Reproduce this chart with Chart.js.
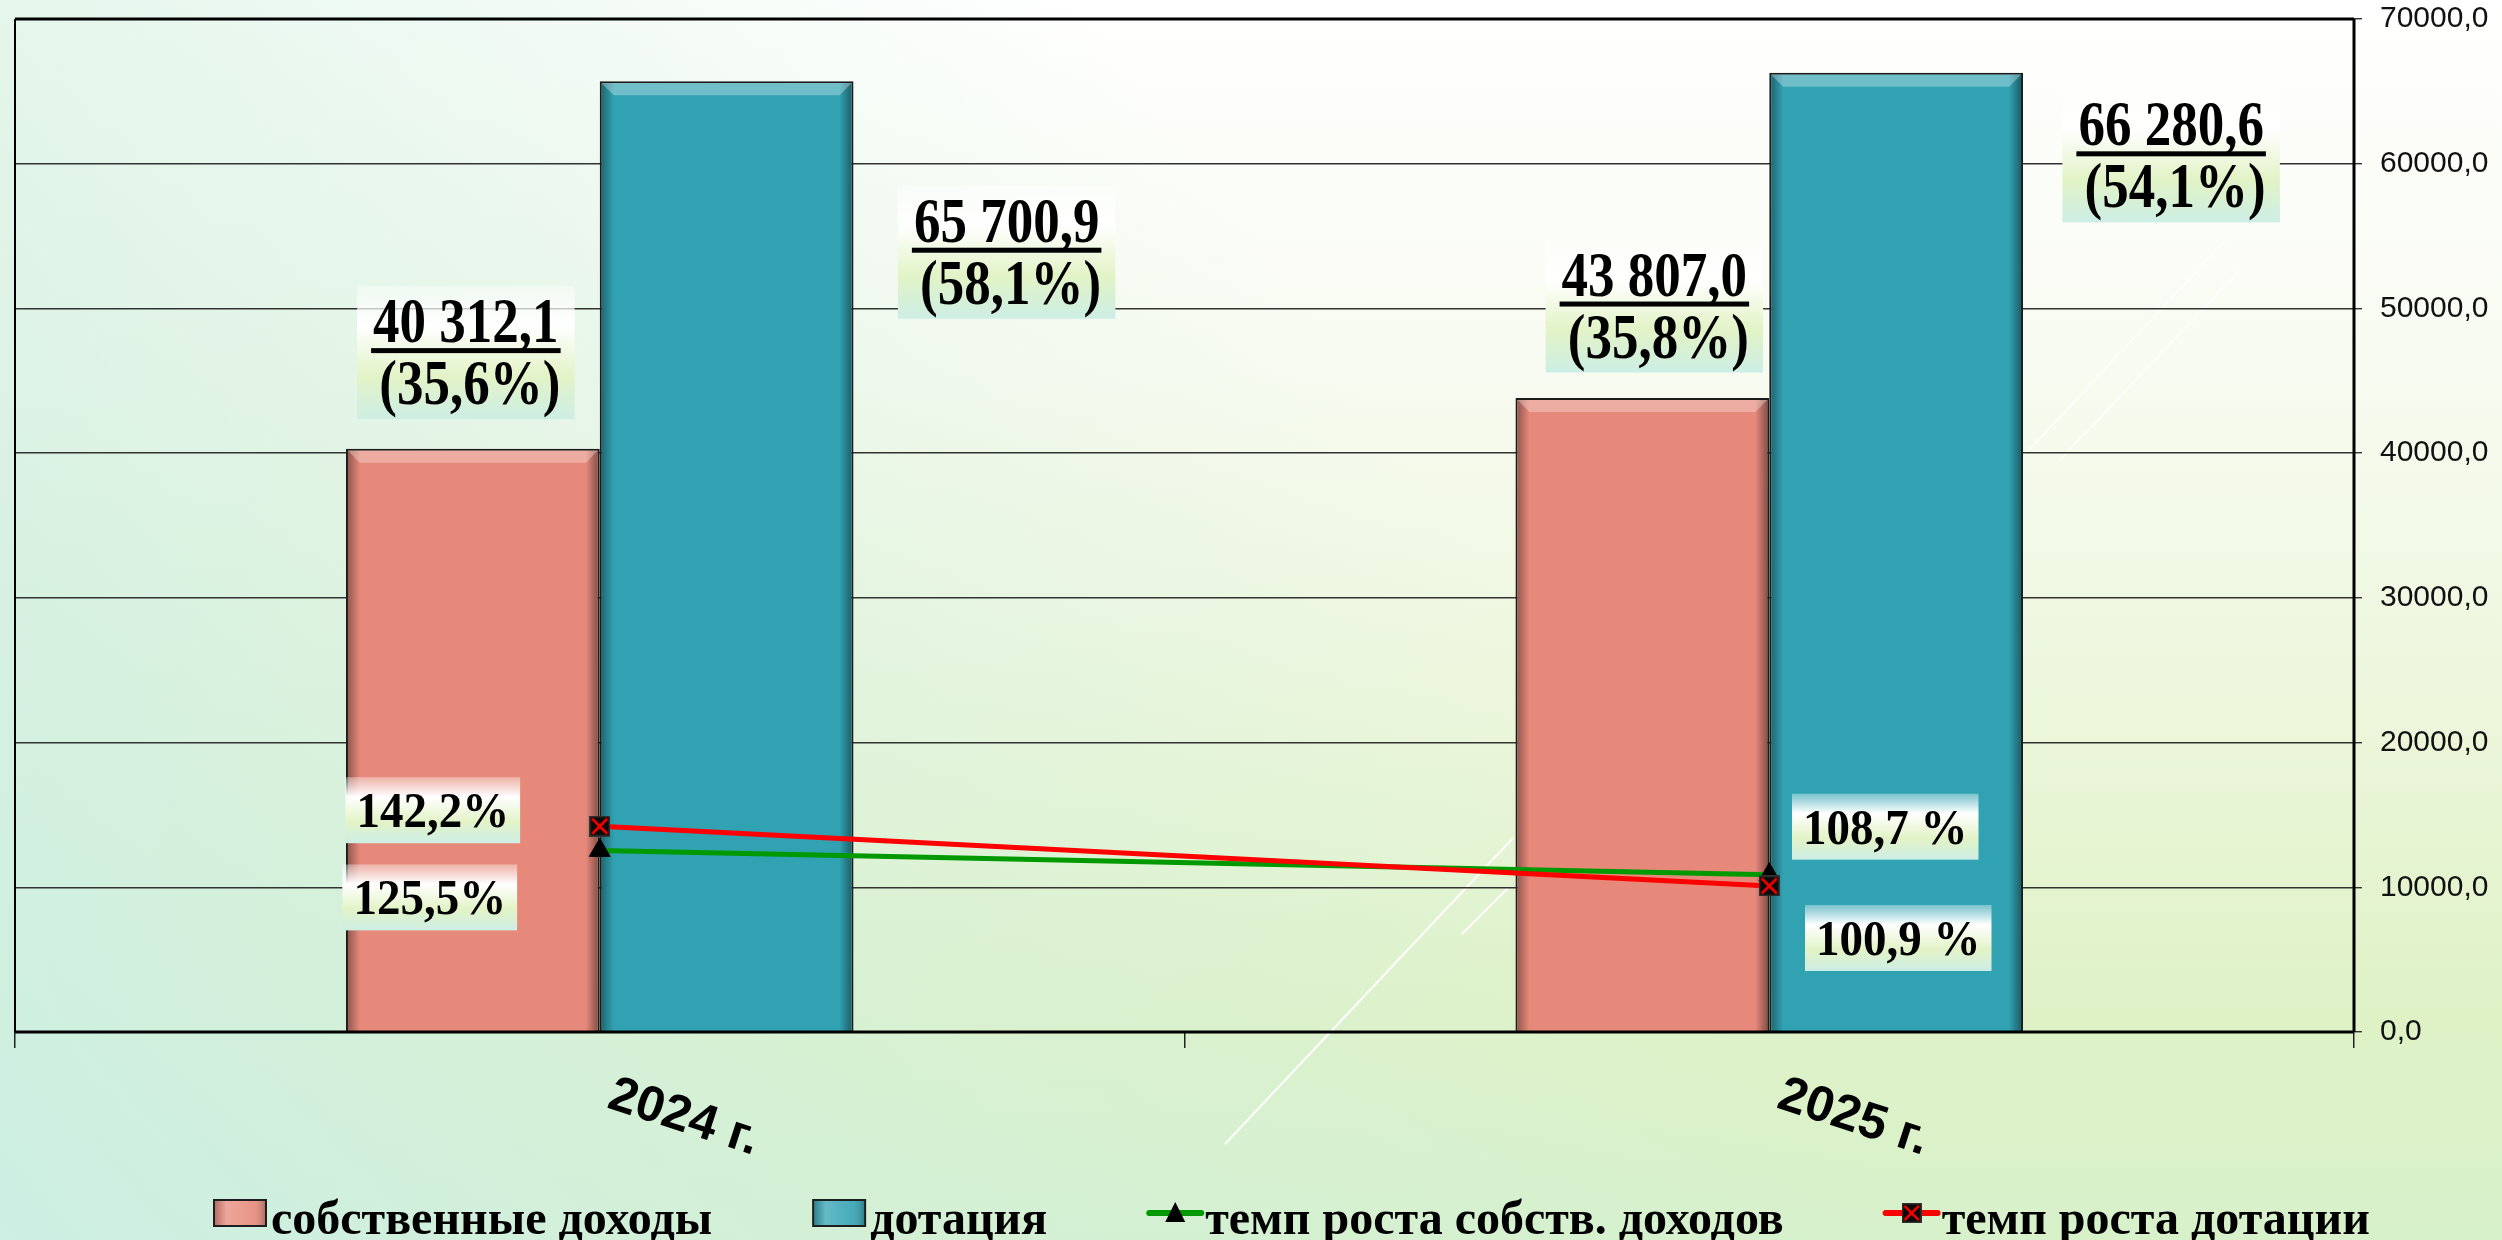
<!DOCTYPE html>
<html>
<head>
<meta charset="utf-8">
<script src="https://cdn.jsdelivr.net/npm/chart.js@4.4.1/dist/chart.umd.min.js"></script>
<style>
  html, body { margin: 0; padding: 0; overflow: hidden; background: #fff; }
</style>
</head>
<body>
<canvas id="chart" width="2502" height="1240"></canvas>
<script>
// values
const years = ['2024 г.', '2025 г.'];
const ownIncome = [40312.1, 43807.0];     // собственные доходы
const subsidy = [65700.9, 66280.6];       // дотация
const ownShare = [35.6, 35.8];            // доля, %
const subsidyShare = [58.1, 54.1];
const ownGrowth = [125.5, 108.7];         // темп роста собств. доходов, %
const subsidyGrowth = [142.2, 100.9];     // темп роста дотации, %
const yTicks = [0, 10000, 20000, 30000, 40000, 50000, 60000, 70000];

// where the value boxes sit, relative to the bar top / line point
const barLabelOffset = [
    [{ dx: -7, dy: -96 }, { dx: 12, dy: -92 }],    // собственные доходы
    [{ dx: 280, dy: 171 }, { dx: 275, dy: 83 }]    // дотация
];
const pctLabelOffset = {
    2: [{ dx: -170, dy: 47 }, { dx: 116, dy: -48 }],   // green
    3: [{ dx: -167, dy: -16 }, { dx: 129, dy: 52 }]    // red
};
const pctSep = ['', ' '];

const ORANGE = '#e6897a';
const TEAL = '#31a2b2';
const GREEN = '#009a00';
const RED = '#ff0000';

function fmtNum(v) {
    const parts = v.toFixed(1).split('.');
    return parts[0].replace(/\B(?=(\d{3})+(?!\d))/g, ' ') + ',' + parts[1];
}
function fmtPct(v) {
    return v.toFixed(1).replace('.', ',') + '%';
}

// red marker: black square with a red cross
function makeRedMarker(size) {
    const c = document.createElement('canvas');
    c.width = size; c.height = size;
    const x = c.getContext('2d');
    x.fillStyle = '#333';
    x.fillRect(0, 0, size, size);
    x.fillStyle = '#0a0a0a';
    x.fillRect(1.5, 1.5, size - 3, size - 3);
    x.strokeStyle = RED;
    x.lineWidth = 2.5;
    x.beginPath();
    x.moveTo(3, 3); x.lineTo(size - 3, size - 3);
    x.moveTo(size - 3, 3); x.lineTo(3, size - 3);
    x.stroke();
    return c;
}
const redMarker = makeRedMarker(21);

function labelGradient(ctx, top, h) {
    const g = ctx.createLinearGradient(0, top, 0, top + h);
    g.addColorStop(0, 'rgba(255,255,255,0.35)');
    g.addColorStop(0.3, 'rgba(255,255,255,1)');
    g.addColorStop(0.68, '#e2f3c6');
    g.addColorStop(1, '#cdeee5');
    return g;
}

function stretchedText(ctx, text, x, y, sy) {
    ctx.save();
    ctx.translate(x, y);
    ctx.scale(1, sy);
    ctx.fillText(text, 0, 0);
    ctx.restore();
}

const decorPlugin = {
    id: 'decor',
    beforeDraw(chart) {
        const ctx = chart.ctx;
        const W = chart.width, H = chart.height;
        ctx.save();
        const g = ctx.createLinearGradient(0, 0, 0, H);
        g.addColorStop(0, '#ffffff');
        g.addColorStop(0.3, '#f8fbf1');
        g.addColorStop(0.6, '#ebf6d9');
        g.addColorStop(0.82, '#dff2c6');
        g.addColorStop(1, '#d7f1cb');
        ctx.fillStyle = g;
        ctx.fillRect(0, 0, W, H);
        const g2 = ctx.createLinearGradient(0, H, 1300, 300);
        g2.addColorStop(0, 'rgba(205,239,228,1)');
        g2.addColorStop(0.45, 'rgba(208,239,222,0.55)');
        g2.addColorStop(1, 'rgba(208,239,222,0)');
        ctx.fillStyle = g2;
        ctx.fillRect(0, 0, W, H);
        // white streaks of the background
        ctx.strokeStyle = 'rgba(255,255,255,0.95)';
        ctx.lineWidth = 2;
        ctx.beginPath();
        ctx.moveTo(1225, 1144); ctx.lineTo(1513, 838);
        ctx.moveTo(1462, 934); ctx.lineTo(1508, 888);
        ctx.stroke();
        ctx.strokeStyle = 'rgba(255,255,255,0.6)';
        ctx.beginPath();
        ctx.moveTo(2027, 452); ctx.lineTo(2226, 240);
        ctx.moveTo(2060, 460); ctx.lineTo(2240, 270);
        ctx.stroke();
        ctx.restore();
    },
    afterDatasetDraw(chart, args) {
        const meta = args.meta;
        if (meta.type !== 'bar') return;
        const ctx = chart.ctx;
        const b = 2, sw = 12;
        ctx.save();
        meta.data.forEach((el) => {
            const p = el.getProps(['x', 'y', 'base', 'width'], true);
            const l = p.x - p.width / 2 + b, r = p.x + p.width / 2 - b;
            const t = p.y + b, bt = p.base;
            let g = ctx.createLinearGradient(l, 0, l + sw, 0);
            g.addColorStop(0, 'rgba(0,0,0,0.35)');
            g.addColorStop(1, 'rgba(0,0,0,0)');
            ctx.fillStyle = g;
            ctx.fillRect(l, t, sw, bt - t);
            g = ctx.createLinearGradient(r, 0, r - sw, 0);
            g.addColorStop(0, 'rgba(0,0,0,0.4)');
            g.addColorStop(1, 'rgba(0,0,0,0)');
            ctx.fillStyle = g;
            ctx.fillRect(r - sw, t, sw, bt - t);
            ctx.fillStyle = 'rgba(255,255,255,0.3)';
            ctx.beginPath();
            ctx.moveTo(l, t); ctx.lineTo(r, t);
            ctx.lineTo(r - sw, t + sw); ctx.lineTo(l + sw, t + sw);
            ctx.closePath();
            ctx.fill();
        });
        ctx.restore();
    },
    afterDatasetsDraw(chart) {
        const ctx = chart.ctx;
        const a = chart.chartArea;
        ctx.save();
        // plot frame
        ctx.strokeStyle = '#000';
        ctx.lineWidth = 2;
        ctx.beginPath();
        ctx.moveTo(a.left, a.top); ctx.lineTo(a.left, a.bottom);
        ctx.stroke();
        ctx.lineWidth = 3;
        ctx.beginPath();
        ctx.moveTo(a.left, a.top); ctx.lineTo(a.right, a.top);
        ctx.moveTo(a.right, a.top); ctx.lineTo(a.right, a.bottom);
        ctx.moveTo(a.left, a.bottom); ctx.lineTo(a.right, a.bottom);
        ctx.stroke();

        ctx.fillStyle = '#000';
        ctx.textAlign = 'center';
        ctx.textBaseline = 'alphabetic';

        // value + share boxes over the bars
        const shares = [ownShare, subsidyShare];
        [0, 1].forEach((di) => {
            const meta = chart.getDatasetMeta(di);
            meta.data.forEach((el, i) => {
                const off = barLabelOffset[di][i];
                const cx = el.x + off.dx, cy = el.y + off.dy;
                const top1 = fmtNum(chart.data.datasets[di].data[i]);
                const top2 = '(' + fmtPct(shares[di][i]) + ')';
                ctx.font = 'bold 53px "Liberation Serif"';
                const w1 = ctx.measureText(top1).width;
                const w2 = ctx.measureText(top2).width;
                const bw = Math.max(w1, w2) + 32, bh = 133;
                const bx = cx - bw / 2, by = cy - bh / 2;
                ctx.fillStyle = labelGradient(ctx, by, bh);
                ctx.fillRect(bx, by, bw, bh);
                ctx.fillStyle = '#000';
                stretchedText(ctx, top1, cx, by + 56, 1.2);
                ctx.fillRect(cx - w1 / 2 - 2, by + 62, w1 + 4, 5);
                stretchedText(ctx, top2, cx + 4, by + 118, 1.2);
            });
        });

        // growth rate boxes by the line points
        [2, 3].forEach((di) => {
            const meta = chart.getDatasetMeta(di);
            meta.data.forEach((el, i) => {
                const off = pctLabelOffset[di][i];
                const cx = el.x + off.dx, cy = el.y + off.dy;
                const txt = chart.data.datasets[di].data[i].toFixed(1).replace('.', ',') + pctSep[i] + '%';
                ctx.font = 'bold 47px "Liberation Serif"';
                const w = ctx.measureText(txt).width;
                const bw = w + 22, bh = 66;
                const bx = cx - bw / 2, by = cy - bh / 2;
                ctx.fillStyle = labelGradient(ctx, by, bh);
                ctx.fillRect(bx, by, bw, bh);
                ctx.fillStyle = '#000';
                stretchedText(ctx, txt, cx, by + 50, 1.1);
            });
        });
        ctx.restore();
    },
    afterDraw(chart) {
        const ctx = chart.ctx;
        const xs = chart.scales.x;
        const a = chart.chartArea;
        ctx.save();
        // rotated category labels
        ctx.font = 'bold 50px "Liberation Sans"';
        ctx.fillStyle = '#000';
        ctx.textAlign = 'center';
        ctx.textBaseline = 'middle';
        chart.data.labels.forEach((lab, i) => {
            const x = xs.getPixelForValue(i) + 84;
            ctx.save();
            ctx.translate(x, a.bottom + 86);
            ctx.rotate(18 * Math.PI / 180);
            ctx.fillText(lab, 0, 0);
            ctx.restore();
        });

        // legend
        const ds = chart.data.datasets;
        let lx = 213;
        const midY = 1213, baseY = 1234;
        ctx.font = 'bold 48px "Liberation Serif"';
        ctx.textAlign = 'left';
        ctx.textBaseline = 'alphabetic';
        [0, 1, 2, 3].forEach((di) => {
            const d = ds[di];
            if (d.type === 'line') {
                ctx.strokeStyle = d.borderColor;
                ctx.lineWidth = 6;
                ctx.lineCap = 'round';
                ctx.beginPath();
                ctx.moveTo(lx + 2, midY); ctx.lineTo(lx + 54, midY);
                ctx.stroke();
                if (d.pointStyle === 'triangle') {
                    ctx.fillStyle = '#000';
                    ctx.beginPath();
                    ctx.moveTo(lx + 28, midY - 11);
                    ctx.lineTo(lx + 38, midY + 9);
                    ctx.lineTo(lx + 18, midY + 9);
                    ctx.closePath();
                    ctx.fill();
                } else {
                    ctx.drawImage(d.pointStyle, lx + 28 - 10, midY - 10, 20, 20);
                }
            } else {
                ctx.fillStyle = '#1d1d1d';
                ctx.fillRect(lx, midY - 14, 54, 28);
                const g = ctx.createLinearGradient(lx, 0, lx + 54, 0);
                g.addColorStop(0, 'rgba(0,0,0,0.25)');
                g.addColorStop(0.25, 'rgba(255,255,255,0.25)');
                g.addColorStop(0.75, 'rgba(255,255,255,0.1)');
                g.addColorStop(1, 'rgba(0,0,0,0.3)');
                ctx.fillStyle = d.backgroundColor;
                ctx.fillRect(lx + 2, midY - 12, 50, 24);
                ctx.fillStyle = g;
                ctx.fillRect(lx + 2, midY - 12, 50, 24);
            }
            ctx.fillStyle = '#000';
            ctx.fillText(d.label, lx + 58, baseY);
            lx += 58 + ctx.measureText(d.label).width + 100;
        });
        ctx.restore();
    }
};

new Chart(document.getElementById('chart'), {
    type: 'bar',
    data: {
        labels: years,
        datasets: [
            {
                label: 'собственные доходы',
                data: ownIncome,
                backgroundColor: ORANGE,
                borderColor: '#1b1b1b',
                borderWidth: 2,
                categoryPercentage: 0.434,
                barPercentage: 1.0,
                order: 2
            },
            {
                label: 'дотация',
                data: subsidy,
                backgroundColor: TEAL,
                borderColor: '#1b1b1b',
                borderWidth: 2,
                categoryPercentage: 0.434,
                barPercentage: 1.0,
                order: 2
            },
            {
                type: 'line',
                label: 'темп роста собств. доходов',
                data: ownGrowth,
                yAxisID: 'y2',
                borderColor: GREEN,
                borderWidth: 5,
                tension: 0,
                pointStyle: 'triangle',
                pointRadius: 12,
                pointBackgroundColor: '#000',
                pointBorderColor: '#000',
                pointBorderWidth: 1,
                order: 1
            },
            {
                type: 'line',
                label: 'темп роста дотации',
                data: subsidyGrowth,
                yAxisID: 'y2',
                borderColor: RED,
                borderWidth: 5,
                tension: 0,
                pointStyle: redMarker,
                pointRadius: 10,
                order: 0
            }
        ]
    },
    options: {
        responsive: false,
        animation: false,
        layout: { padding: { top: 19, left: 13, right: 0, bottom: 0 } },
        plugins: {
            legend: { display: false },
            tooltip: { enabled: false },
            title: { display: false }
        },
        scales: {
            x: {
                offset: true,
                border: { display: false },
                grid: {
                    display: true,
                    drawOnChartArea: false,
                    drawTicks: true,
                    tickLength: 16,
                    color: '#222',
                    lineWidth: 1.5
                },
                ticks: { display: false },
                afterFit(scale) { scale.height = 208; }
            },
            y: {
                position: 'right',
                min: 0,
                max: 70000,
                afterBuildTicks(scale) { scale.ticks = yTicks.map((v) => ({ value: v })); },
                border: { display: false },
                grid: {
                    color: '#333',
                    lineWidth: 1.4,
                    drawTicks: true,
                    tickLength: 8
                },
                ticks: {
                    padding: 18,
                    color: '#111',
                    font: { family: '"Liberation Sans"', size: 30 },
                    callback: (v) => v.toFixed(1).replace('.', ',')
                },
                afterFit(scale) {
                    scale.width = 148;
                    scale.paddingTop = 0;
                    scale.paddingBottom = 0;
                }
            },
            y2: {
                display: false,
                min: 0,
                max: 700
            }
        }
    },
    plugins: [decorPlugin]
});
</script>
</body>
</html>
